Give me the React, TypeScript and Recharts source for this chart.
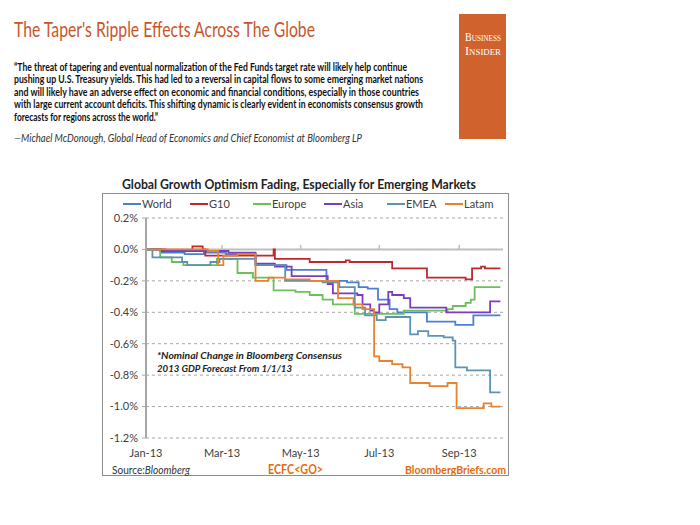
import { LineChart, Line, XAxis, YAxis, CartesianGrid, ReferenceLine } from "recharts";

// days since 1 Jan 2013, values in % change of the 2013 GDP forecast
const seriesNames = ["World", "G10", "Europe", "Asia", "EMEA", "Latam"];
const seriesColors = ["#4a7fd4", "#c0282d", "#6cbf5a", "#7a3dbf", "#5b93b0", "#e8822f"];

const worldDays = [0, 12, 30, 45, 62, 85, 109, 140, 156, 165, 172, 180, 189, 195, 218, 240, 254, 275];
const worldValues = [0, -0.02, -0.03, -0.02, -0.03, -0.1, -0.13, -0.2, -0.21, -0.24, -0.25, -0.32, -0.38, -0.4, -0.46, -0.48, -0.42, -0.42];

const g10Days = [0, 11, 36, 44, 46, 99, 100, 127, 155, 158, 191, 218, 248, 253, 260, 263, 275];
const g10Values = [0, -0.01, 0.02, 0, -0.04, 0, -0.06, -0.08, -0.07, -0.08, -0.12, -0.18, -0.19, -0.12, -0.11, -0.12, -0.12];

const europeDays = [0, 11, 20, 29, 55, 71, 83, 99, 116, 127, 137, 145, 162, 200, 234, 238, 248, 252, 255, 275];
const europeValues = [0, -0.05, -0.08, -0.1, -0.06, -0.15, -0.18, -0.26, -0.27, -0.29, -0.32, -0.35, -0.41, -0.39, -0.38, -0.36, -0.34, -0.32, -0.24, -0.24];

const asiaDays = [0, 15, 64, 85, 100, 113, 141, 145, 164, 168, 174, 177, 181, 188, 191, 200, 205, 233, 267, 275];
const asiaValues = [0, -0.01, -0.02, -0.09, -0.11, -0.17, -0.22, -0.28, -0.29, -0.35, -0.39, -0.4, -0.35, -0.27, -0.29, -0.31, -0.37, -0.4, -0.33, -0.33];

const emeaDays = [0, 5, 28, 32, 50, 57, 85, 108, 125, 137, 150, 162, 170, 179, 186, 205, 211, 219, 231, 238, 240, 249, 267, 275];
const emeaValues = [0, -0.05, -0.08, -0.1, -0.08, -0.06, -0.1, -0.2, -0.2, -0.21, -0.24, -0.37, -0.42, -0.45, -0.43, -0.54, -0.52, -0.55, -0.56, -0.58, -0.75, -0.77, -0.91, -0.91];

const latamDays = [0, 48, 56, 60, 71, 85, 95, 108, 127, 149, 161, 168, 177, 181, 191, 199, 205, 220, 234, 241, 262, 268, 275];
const latamValues = [0, -0.01, -0.1, -0.04, -0.03, -0.2, -0.18, -0.19, -0.2, -0.31, -0.35, -0.38, -0.68, -0.71, -0.73, -0.75, -0.85, -0.87, -0.85, -1.01, -0.98, -1, -1];

const xTicks = [0, 59, 120, 181, 243];
const xTickLabels = ["Jan-13", "Mar-13", "May-13", "Jul-13", "Sep-13"];
const yTicks = [0.2, 0, -0.2, -0.4, -0.6, -0.8, -1.0, -1.2];

const quoteLines = [
  "\u201CThe threat of tapering and eventual normalization of the Fed Funds target rate will likely help continue",
  "pushing up U.S. Treasury yields. This had led to a reversal in capital flows to some emerging market nations",
  "and will likely have an adverse effect on economic and financial conditions, especially in those countries",
  "with large current account deficits. This shifting dynamic is clearly evident in economists consensus growth",
  "forecasts for regions across the world.\u201D",
];

const allDays = [worldDays, g10Days, europeDays, asiaDays, emeaDays, latamDays];
const allValues = [worldValues, g10Values, europeValues, asiaValues, emeaValues, latamValues];

const series = seriesNames.map((name, i) => ({
  name,
  color: seriesColors[i],
  data: allDays[i].map((d, j) => ({ d, v: allValues[i][j] })),
}));

// layout only
const quoteWidths = [393, 409, 405, 409, 144];
const legendX = [123, 190, 253, 324, 387, 445];

const fmtPct = (v: number) => `${v.toFixed(1)}%`;
const fmtDay = (d: number) => xTickLabels[xTicks.indexOf(d)] ?? "";

export default function App() {
  return (
    <div style={{ position: "absolute", left: 0, top: 0, width: 700, height: 525, background: "#fff", overflow: "hidden" }}>
      <div style={{ position: "absolute", left: 100, top: 193 }}>
        <LineChart width={409} height={284} margin={{ top: 25, right: 6, bottom: 9, left: 6 }}>
          <CartesianGrid vertical={false} stroke="#a6a6a6" strokeDasharray="3 3" />
          <XAxis
            dataKey="d"
            type="number"
            domain={[0, 277]}
            ticks={xTicks}
            tickFormatter={fmtDay}
            axisLine={false}
            tickLine={false}
            tickMargin={5}
            height={30}
            allowDataOverflow
            tick={{ fontSize: 11, fill: "#404040", fontFamily: "Lato" }}
          />
          <YAxis
            type="number"
            domain={[-1.2, 0.2]}
            ticks={yTicks}
            tickFormatter={fmtPct}
            width={40}
            tickSize={4}
            tickMargin={4}
            axisLine={{ stroke: "#a6a6a6", strokeWidth: 2 }}
            tickLine={{ stroke: "#a6a6a6" }}
            tick={{ fontSize: 11, fill: "#404040", fontFamily: "Lato" }}
          />
          <ReferenceLine y={0} stroke="#bfbfbf" strokeWidth={2} />
          {xTicks.slice(1).map((t) => (
            <ReferenceLine key={t} segment={[{ x: t, y: 0 }, { x: t, y: 0.028 }]} stroke="#bfbfbf" strokeWidth={1.5} />
          ))}
          {series.map((s) => (
            <Line
              key={s.name}
              data={s.data}
              dataKey="v"
              name={s.name}
              type="stepAfter"
              stroke={s.color}
              strokeWidth={1.8}
              dot={false}
              isAnimationActive={false}
            />
          ))}
        </LineChart>
      </div>

      <svg width={700} height={525} style={{ position: "absolute", left: 0, top: 0, pointerEvents: "none" }}>
        <text x={14} y={37} fontFamily="Lato" fontWeight={400} fontSize={21} fill="#c9562a" textLength={301} lengthAdjust="spacingAndGlyphs">
          The Taper's Ripple Effects Across The Globe
        </text>

        <rect x={459} y={14} width={47} height={125} fill="#d0622e" />
        <text x={465} y={41} fontFamily="Liberation Serif" fontSize={12.5} fill="#fff" style={{ fontVariant: "small-caps" }} textLength={36} lengthAdjust="spacingAndGlyphs">
          Business
        </text>
        <text x={465} y={55} fontFamily="Liberation Serif" fontSize={12.5} fill="#fff" style={{ fontVariant: "small-caps" }} textLength={36} lengthAdjust="spacingAndGlyphs">
          Insider
        </text>

        {quoteLines.map((line, i) => (
          <text key={i} x={14} y={70.5 + i * 12.6} fontFamily="Lato" fontWeight={700} fontSize={11.5} fill="#111" textLength={quoteWidths[i]} lengthAdjust="spacingAndGlyphs">
            {line}
          </text>
        ))}
        <text x={14} y={141.5} fontFamily="Lato" fontStyle="italic" fontSize={11} fill="#333" textLength={348} lengthAdjust="spacingAndGlyphs">
          {"\u2014Michael McDonough, Global Head of Economics and Chief Economist at Bloomberg LP"}
        </text>

        <text x={122} y={189} fontFamily="Lato" fontWeight={700} fontSize={12.5} fill="#222" textLength={354} lengthAdjust="spacingAndGlyphs">
          Global Growth Optimism Fading, Especially for Emerging Markets
        </text>
        <rect x={102.5} y={193.5} width={406} height={282} fill="none" stroke="#8c8c8c" />

        {series.map((s, i) => (
          <g key={s.name}>
            <line x1={legendX[i]} x2={legendX[i] + 18} y1={204} y2={204} stroke={s.color} strokeWidth={2} />
            <text x={legendX[i] + 19} y={208} fontFamily="Lato" fontSize={11} fill="#404040">
              {s.name}
            </text>
          </g>
        ))}

        <text x={157} y={358.5} fontFamily="Lato" fontWeight={700} fontStyle="italic" fontSize={10} fill="#222" textLength={185} lengthAdjust="spacingAndGlyphs">
          *Nominal  Change in Bloomberg Consensus
        </text>
        <text x={157} y={371.5} fontFamily="Lato" fontWeight={700} fontStyle="italic" fontSize={10} fill="#222" textLength={135} lengthAdjust="spacingAndGlyphs">
          2013  GDP Forecast From 1/1/13
        </text>

        <text x={112} y={473.5} fontFamily="Lato" fontSize={10.5} fill="#333" textLength={78} lengthAdjust="spacingAndGlyphs">
          Source:<tspan fontStyle="italic">Bloomberg</tspan>
        </text>
        <text x={268} y={474} fontFamily="Lato" fontWeight={700} fontSize={12.5} fill="#e36c09" textLength={55} lengthAdjust="spacingAndGlyphs">
          {"ECFC<GO>"}
        </text>
        <text x={405} y={473.5} fontFamily="Lato" fontWeight={700} fontSize={11.5} fill="#e36c09" textLength={101} lengthAdjust="spacingAndGlyphs">
          BloombergBriefs.com
        </text>
      </svg>
    </div>
  );
}
